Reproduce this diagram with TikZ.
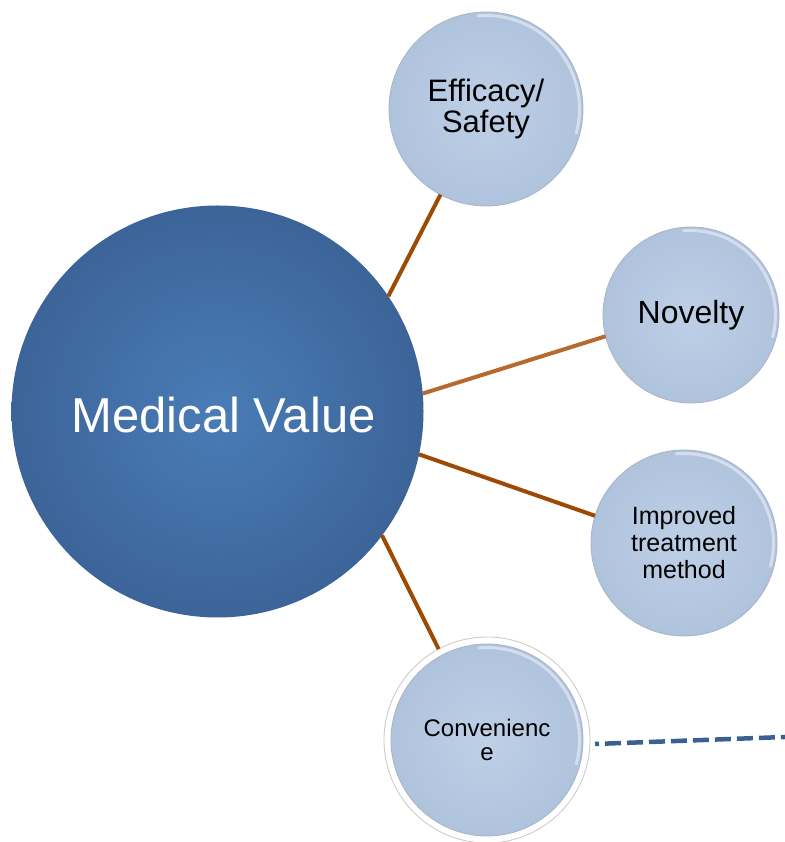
\documentclass[tikz,border=0pt]{standalone}
\usepackage{fontspec}
\setmainfont{Liberation Sans}
\definecolor{bigin}{RGB}{74,124,182}
\definecolor{bigout}{RGB}{60,100,153}
\definecolor{lightin}{RGB}{190,208,231}
\definecolor{lightout}{RGB}{176,195,221}
\definecolor{rimgray}{RGB}{165,180,200}
\definecolor{ringgray}{RGB}{200,200,200}
\definecolor{brownline}{RGB}{156,74,4}
\definecolor{tanline}{RGB}{184,105,47}
\definecolor{dashblue}{RGB}{58,95,145}
\begin{document}
\begin{tikzpicture}[x=1pt,y=1pt,
  bubble/.style={circle, inner sep=0pt, outer sep=0pt, align=center, text=black,
    inner color=lightin, outer color=lightout, draw=rimgray, line width=0.8pt},
  bigbubble/.style={circle, inner sep=0pt, outer sep=0pt, align=center, text=white,
    inner color=bigin, outer color=bigout},
  link/.style={line width=4pt, brownline},
  shine/.style={white, opacity=0.45, line width=3pt, line cap=round},
]
\useasboundingbox (0,0) rectangle (784,842);

% central circle
\node[bigbubble, minimum size=412pt, font=\fontsize{49}{56}\selectfont] (mv) at (217.5,430.5) {\raisebox{-21pt}[0pt][0pt]{\hspace{12pt}Medical Value}};

% satellite circles
\node[bubble, minimum size=194pt, font=\fontsize{31}{31}\selectfont] (eff) at (486,733) {Efficacy/\\Safety};
\node[bubble, minimum size=176pt, font=\fontsize{32}{33}\selectfont] (nov) at (691,527) {Novelty};
\node[bubble, minimum size=186pt, font=\fontsize{25}{27}\selectfont] (imp) at (684,299) {Improved\\treatment\\method};
\node[circle, inner sep=0pt, outer sep=0pt, minimum size=206pt, fill=white, draw=ringgray, line width=0.8pt] (convring) at (487,102) {};
\node[bubble, minimum size=192pt, font=\fontsize{24}{24}\selectfont] (conv) at (487,102) {Convenienc\\e};

% highlights
\draw[shine] ([shift={(95:93.5pt)}]eff.center) arc[start angle=95, end angle=-15, radius=93.5pt];
\draw[shine] ([shift={(95:84.5pt)}]nov.center) arc[start angle=95, end angle=-15, radius=84.5pt];
\draw[shine] ([shift={(95:89.5pt)}]imp.center) arc[start angle=95, end angle=-15, radius=89.5pt];
\draw[shine] ([shift={(95:92.5pt)}]conv.center) arc[start angle=95, end angle=-15, radius=92.5pt];

% connectors
\draw[link] (mv.34.4) -- (eff.242.4);
\draw[link, tanline] (mv.5.7) -- (nov.194.3);
\draw[link] (mv.-12.5) -- (imp.163.4);
\draw[link] (mv.-37.9) -- (convring.118);

% dashed connector leaving the picture
\coordinate (dashend) at (790,105.2);
\draw[dashblue, line width=4.5pt, dash pattern=on 16pt off 6pt, dash phase=12pt]
  ([shift={(5pt,-4pt)}]convring.east) -- (dashend);
\end{tikzpicture}
\end{document}
